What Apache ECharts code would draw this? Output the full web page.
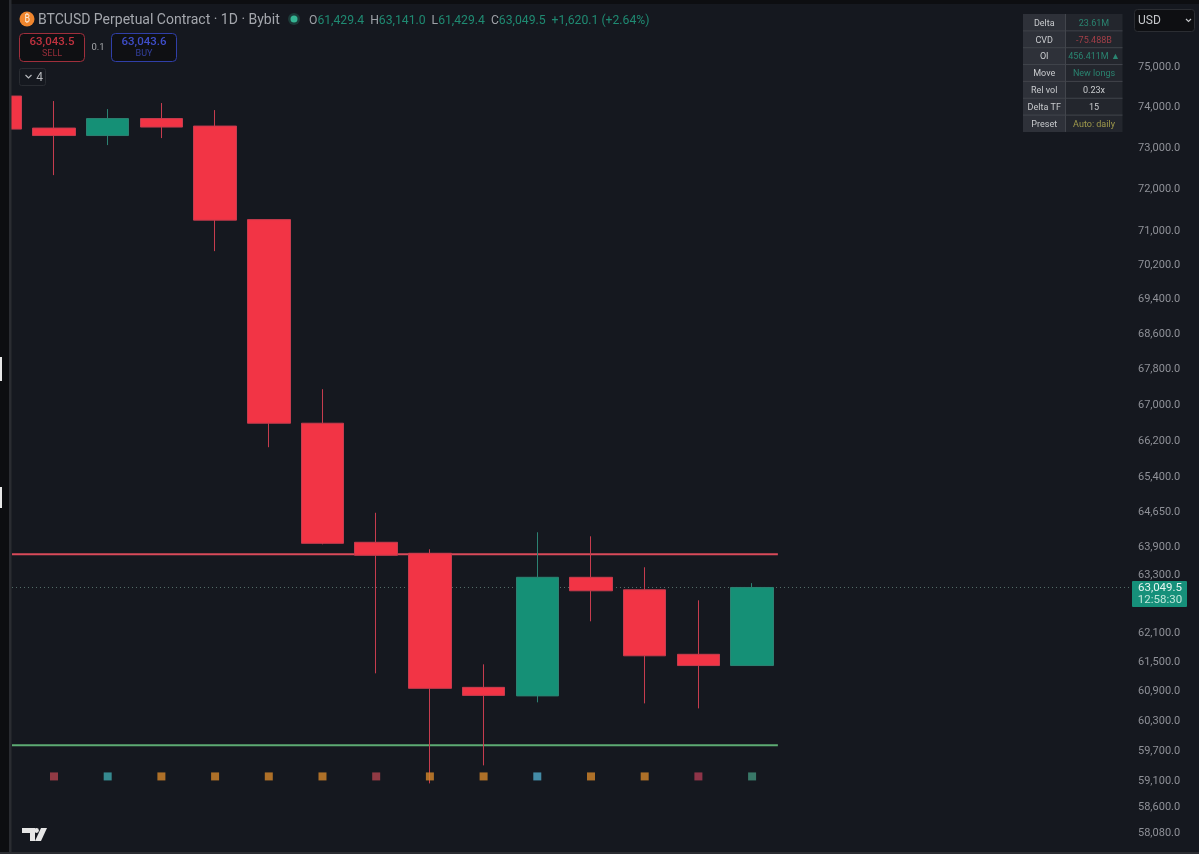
<!DOCTYPE html>
<html>
<head>
<meta charset="utf-8">
<style>html,body{margin:0;padding:0;background:#15181f;overflow:hidden}#c{width:1199px;height:854px}</style>
<script src="https://cdn.jsdelivr.net/npm/echarts@6/dist/echarts.min.js"></script>
</head>
<body>
<div id="c"></div>
<script>
// Daily sessions, oldest first
const sessions = [0,1,2,3,4,5,6,7,8,9,10,11,12,13,14];
const opens  = [74278,73489,73306,73722,73538,71279,66600,64007,63773,60984,60811,63264,63001,61660,61429.4];
const closes = [73464,73306,73722,73514,71267,66600,63985,63731,60964,60821,63264,62980,61629,61429,63049.5];
const lows   = [73464,72345,73073,73244,70534,66069,63964,61270,59062,59418,60680,62342,60659,60558,61429.4];
const highs  = [74278,74154,73956,74105,73931,71279,67360,64640,63858,61454,64221,64135,63476,62780,63141];

const priceTicks = [75000,74000,73000,72000,71000,70200,69400,68600,67800,67000,66200,65400,64650,63900,63300,62100,61500,60900,60300,59700,59100,58600,58080];

const resistance = 63752;
const support = 59816;
const lastPrice = 63049.5;
const markerLevel = 59199;
const markerSessions = [1,2,3,4,5,6,7,8,9,10,11,12,13,14];
const markerStates = ['sell','absorb','neutral','neutral','neutral','neutral','sell','neutral','neutral','cool','neutral','neutral','rose','buy'];

const tableRows = ['Delta','CVD','OI','Move','Rel vol','Delta TF','Preset'];
const tableValues = ['23.61M','-75.488B','456.411M ▲','New longs','0.23x','15','Auto: daily'];
const tableTones = ['up','down','up','up','plain','plain','amber'];

const FONT = 'Roboto, "Noto Sans", sans-serif';
const stateColors = {sell:'#b0444e',absorb:'#3fa8ad',neutral:'#d4872a',cool:'#50a9c8',rose:'#ad3c53',buy:'#42917a'};
const toneColors = {up:'#2a8470',down:'#a23f48',plain:'#c9cbce',amber:'#a09a4c'};
const xMin = 0.218, xMax = 21.056, levelEnd = 14.48;

const chart = echarts.init(document.getElementById('c'), null, {renderer:'canvas'});

// Chrome drawn around the plot: header, order buttons, stats table, currency selector, price chip
const g = [];
const rect = (x,y,w,h,fill,stroke,r,z) => g.push({type:'rect',z:z||10,silent:true,shape:{x,y,width:w,height:h,r:r||0},style:{fill:fill||'transparent',stroke:stroke||null,lineWidth:1}});
const text = (x,y,t,size,color,align,extra) => g.push({type:'text',z:12,silent:true,x,y,style:Object.assign({text:t,font:`${size}px ${FONT}`,fill:color,align:align||'left',verticalAlign:'middle'},extra||{})});

rect(0,0,1199,4,'#0d0e11');
rect(0,0,9,854,'#0d0e11');
rect(9,0,2.5,854,'#2a2c31');
rect(0,852,1199,2,'#2a2c31');
rect(0,357,2,24,'#e8e8e8');
rect(0,487,2,21,'#e8e8e8');

g.push({type:'circle',z:11,silent:true,shape:{cx:27,cy:19,r:7.5},style:{fill:'#f0862e'}});
text(27,19.5,'₿',10,'#fbe6d0','center');
text(38,20.5,'BTCUSD Perpetual Contract · 1D · Bybit',14,'#a4a7ad');
g.push({type:'circle',z:11,silent:true,shape:{cx:294,cy:19,r:6},style:{fill:'#1c3a38'}});
g.push({type:'circle',z:12,silent:true,shape:{cx:294,cy:19,r:3.5},style:{fill:'#35b593'}});
g.push({type:'text',z:12,silent:true,x:309,y:20.5,style:{
  text:'{l|O}{v|61,429.4}  {l|H}{v|63,141.0}  {l|L}{v|61,429.4}  {l|C}{v|63,049.5}  {v|+1,620.1 (+2.64%)}',
  font:`12.2px ${FONT}`,verticalAlign:'middle',
  rich:{l:{fill:'#9ea1a7',font:`12.2px ${FONT}`},v:{fill:'#1f8a72',font:`12.2px ${FONT}`}}}});

rect(19.5,33.5,65,28,'#0f1013','#a02f3c',4);
text(52,42,'63,043.5',11.5,'#c0323f','center',{font:`500 11.5px ${FONT}`});
text(52,53.5,'SELL',9,'#942d39','center');
text(98,48,'0.1',9.5,'#a5a7ab','center');
rect(111.5,33.5,65,28,'#0f1013','#303fa8',4);
text(144,42,'63,043.6',11.5,'#3e4dc8','center',{font:`500 11.5px ${FONT}`});
text(144,53.5,'BUY',9,'#33409e','center');
rect(19.5,68.5,26,17,'#15181f','#292c32',2);
g.push({type:'polyline',z:12,silent:true,shape:{points:[[25.5,75],[28.5,78],[31.5,75]]},style:{stroke:'#b6b8bc',fill:null,lineWidth:1.2}});
text(39.5,77.5,'4',12,'#b6b8bc','center');

// Stats table, one row per metric
const rowH = 16.85, tTop = 14, tLeft = 1023, tSplit = 1065.5, tRight = 1122.5;
tableRows.forEach((name,i)=>{
  const y = tTop + i*rowH;
  rect(tLeft,y,tSplit-tLeft,rowH,'#2e3139');
  rect(tSplit,y,tRight-tSplit,rowH,'#23262d');
  text((tLeft+tSplit)/2,y+rowH/2+1,name,9,'#c9cbce','center');
  text((tSplit+tRight)/2,y+rowH/2+1,tableValues[i],9,toneColors[tableTones[i]],'center');
  if(i) g.push({type:'line',z:11,silent:true,shape:{x1:tLeft,y1:y,x2:tRight,y2:y},style:{stroke:'#42454c',lineWidth:1}});
});
g.push({type:'line',z:11,silent:true,shape:{x1:tSplit,y1:tTop,x2:tSplit,y2:tTop+7*rowH},style:{stroke:'#42454c',lineWidth:1}});

rect(1134.5,9.5,60,22,'#0e0f12','#2b2d32',3);
text(1138,20.5,'USD',12,'#c6c8cb');
g.push({type:'polyline',z:12,silent:true,shape:{points:[[1186,19],[1188.5,21.5],[1191,19]]},style:{stroke:'#c6c8cb',fill:null,lineWidth:1.1}});

rect(1132,581,55,26,'#16907a',null,1);
text(1160,588.5,'63,049.5',11.5,'#e4f4ef','center');
text(1160,600.5,'12:58:30',11.5,'#bfe6da','center');

// Wordmark in the lower-left corner
g.push({type:'polygon',z:12,silent:true,shape:{points:[[22,828],[35,828],[35,841],[30,841],[30,833],[22,833]]},style:{fill:'#e6e6e6'}});
g.push({type:'circle',z:12,silent:true,shape:{cx:36.5,cy:830.5,r:2.4},style:{fill:'#e6e6e6'}});
g.push({type:'polygon',z:12,silent:true,shape:{points:[[41,828],[47,828],[41,841],[35,841]]},style:{fill:'#e6e6e6'}});

chart.setOption({
  animation:false,
  backgroundColor:'#15181f',
  grid:{left:12,right:68,top:5,bottom:3,containLabel:false},
  xAxis:{type:'value',min:xMin,max:xMax,show:false,splitLine:{show:false}},
  yAxis:{
    type:'log',logBase:10,min:57745,max:76568,position:'right',
    axisLine:{show:false},axisTick:{show:false},splitLine:{show:false},minorTick:{show:false},
    axisLabel:{
      customValues:priceTicks,showMinLabel:true,showMaxLabel:true,margin:7,
      padding:[4,0,0,0],
      color:'#8f9198',fontSize:11,fontFamily:FONT,
      formatter:v=>Number(v).toLocaleString('en-US',{minimumFractionDigits:1,maximumFractionDigits:1})
    }
  },
  series:[
    {type:'line',symbol:'none',z:2,silent:true,data:[[xMin,resistance],[levelEnd,resistance]],lineStyle:{color:'#d94a5a',width:2}},
    {type:'line',symbol:'none',z:2,silent:true,data:[[xMin,support],[levelEnd,support]],lineStyle:{color:'#5dab73',width:2}},
    {type:'line',symbol:'none',z:1,silent:true,data:[[xMin,lastPrice],[xMax,lastPrice]],lineStyle:{color:'#56706a',width:1,type:[1,3]}},
    {type:'candlestick',z:3,barWidth:43,
      data:sessions.map((s,i)=>[s,opens[i],closes[i],lows[i],highs[i]]),
      encode:{x:0,y:[1,2,3,4]},
      itemStyle:{color:'#159076',color0:'#f23445',borderColor:'#2c8272',borderColor0:'#c63c4e',borderWidth:1}},
    {type:'scatter',z:4,symbol:'rect',symbolSize:8,silent:true,
      data:markerSessions.map((s,i)=>({value:[s,markerLevel],itemStyle:{color:stateColors[markerStates[i]]}}))}
  ],
  graphic:{elements:g}
});
</script>
</body>
</html>
